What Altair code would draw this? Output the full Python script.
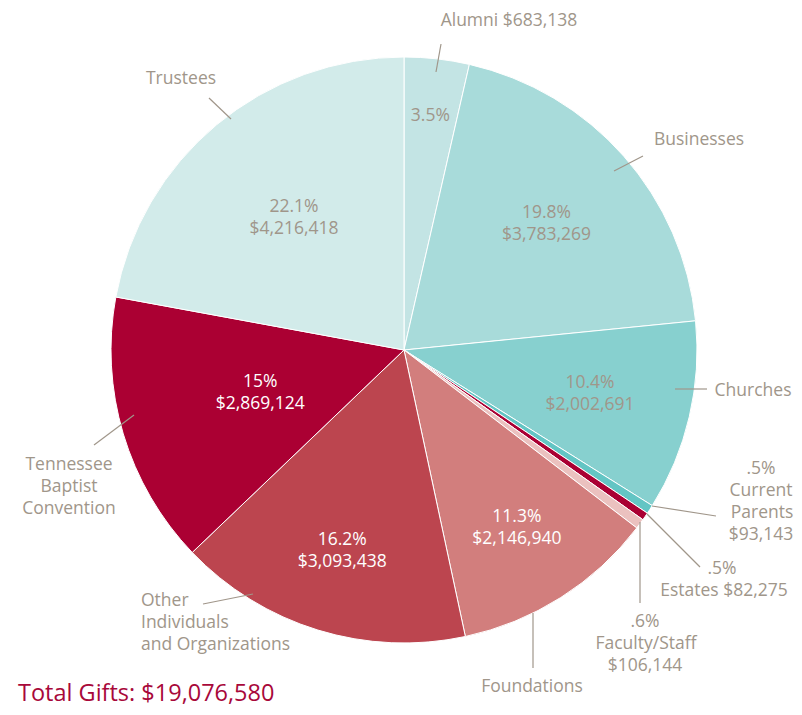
import altair as alt
import pandas as pd
import numpy as np

# ---- data ----
categories = ["Alumni", "Businesses", "Churches", "Current Parents", "Estates",
              "Faculty/Staff", "Foundations", "Other Individuals and Organizations",
              "Tennessee Baptist Convention", "Trustees"]
amounts = [683138, 3783269, 2002691, 93143, 82275, 106144, 2146940, 3093438, 2869124, 4216418]
percent_labels = ["3.5%", "19.8%", "10.4%", ".5%", ".5%", ".6%", "11.3%", "16.2%", "15%", "22.1%"]
amount_labels = ["$683,138", "$3,783,269", "$2,002,691", "$93,143", "$82,275", "$106,144",
                 "$2,146,940", "$3,093,438", "$2,869,124", "$4,216,418"]
total_label = "Total Gifts: $19,076,580"

# ---- style ----
slice_colors = ["#c3e4e4", "#a8dbda", "#87d0cf", "#63c5c4", "#aa0033",
                "#ebc1bf", "#d27e7d", "#bc454f", "#ab0033", "#d2ebea"]
gray = "#a0968a"
FONT = "Open Sans"
FS = 17.5
LH = 22
M = 8  # page margin
CX, CY, R = 404 - M, 350 - M, 293

# inside labels: radius from centre (None = no inside label), text colour
inside_radius = [235, 190, 191, None, None, None, 211, 210, 150, 172]
inside_color = [gray, gray, gray, gray, gray, gray, "white", "white", "white", gray]

# outside label lines (page coords: text, x centre / left, y centre, align)
outside_lines = [
    ("Alumni $683,138", 509, 21, "center"),
    ("Businesses", 699, 140, "center"),
    ("Churches", 753, 391, "center"),
    (".5%", 761, 469, "center"),
    ("Current", 761, 491, "center"),
    ("Parents", 762, 513, "center"),
    ("$93,143", 761, 535, "center"),
    (".5%", 722, 569, "center"),
    ("Estates $82,275", 724, 591, "center"),
    (".6%", 645, 622, "center"),
    ("Faculty/Staff", 646, 644, "center"),
    ("$106,144", 645, 666, "center"),
    ("Foundations", 532, 687, "center"),
    ("Other", 141, 601, "left"),
    ("Individuals", 141, 623, "left"),
    ("and Organizations", 141, 645, "left"),
    ("Tennessee", 69, 465, "center"),
    ("Baptist", 69, 487, "center"),
    ("Convention", 69, 509, "center"),
    ("Trustees", 181, 79, "center"),
]

# leader lines (page coords x1, y1, x2, y2)
leaders = [
    (436, 72, 441, 44),
    (614, 171, 643, 156),
    (675, 389, 707, 389),
    (652, 506, 716, 516),
    (647, 514, 700, 567),
    (640, 522, 640, 603),
    (533, 613, 533, 668),
    (253, 594, 203, 604),
    (134, 415, 94, 445),
    (231, 119, 209, 98),
]

# ---- tables ----
df = pd.DataFrame({"category": categories, "amount": amounts, "idx": range(len(categories))})

amt = np.array(amounts, dtype=float)
total = amt.sum()
mid = (np.cumsum(amt) - amt / 2) / total * 2 * np.pi
rows = []
for i, r in enumerate(inside_radius):
    if r is None:
        continue
    if categories[i] == "Alumni":
        txt, shift = percent_labels[i], 0
    else:
        txt, shift = percent_labels[i] + "\n" + amount_labels[i], LH / 2
    rows.append({"label": txt, "lx": CX + r * np.sin(mid[i]), "ly": CY - r * np.cos(mid[i]) - shift,
                 "tcolor": inside_color[i]})
df_in = pd.DataFrame(rows)

df_out = pd.DataFrame([{"t": t, "x": x - M, "y": y - M, "al": a} for t, x, y, a in outside_lines])
df_lead = pd.DataFrame([{"x1": a - M, "y1": b - M, "x2": c - M, "y2": d - M} for a, b, c, d in leaders])
df_total = pd.DataFrame([{"t": total_label, "x": 18 - M, "y": 694 - M}])

pie = alt.Chart(df).mark_arc(outerRadius=R, stroke="white", strokeWidth=1, x=CX, y=CY).encode(
    theta=alt.Theta("amount:Q", stack=True),
    order=alt.Order("idx:Q"),
    color=alt.Color("category:N", scale=alt.Scale(domain=categories, range=slice_colors), legend=None),
)

inside = alt.Chart(df_in).mark_text(font=FONT, fontSize=FS, lineBreak="\n", lineHeight=LH,
                                    baseline="middle", align="center").encode(
    x=alt.X("lx:Q", scale=None, axis=None),
    y=alt.Y("ly:Q", scale=None, axis=None),
    text="label:N",
    color=alt.Color("tcolor:N", scale=None),
)

lead = alt.Chart(df_lead).mark_rule(color=gray, strokeWidth=1.2).encode(
    x=alt.X("x1:Q", scale=None, axis=None),
    y=alt.Y("y1:Q", scale=None, axis=None),
    x2="x2:Q",
    y2="y2:Q",
)

out_c = alt.Chart(df_out[df_out.al == "center"]).mark_text(
    font=FONT, fontSize=FS, color=gray, baseline="middle", align="center").encode(
    x=alt.X("x:Q", scale=None, axis=None), y=alt.Y("y:Q", scale=None, axis=None), text="t:N")
out_l = alt.Chart(df_out[df_out.al == "left"]).mark_text(
    font=FONT, fontSize=FS, color=gray, baseline="middle", align="left").encode(
    x=alt.X("x:Q", scale=None, axis=None), y=alt.Y("y:Q", scale=None, axis=None), text="t:N")

tot = alt.Chart(df_total).mark_text(font=FONT, fontSize=23.5, color="#a8083a",
                                    baseline="middle", align="left").encode(
    x=alt.X("x:Q", scale=None, axis=None), y=alt.Y("y:Q", scale=None, axis=None), text="t:N")

chart = alt.layer(pie, lead, inside, out_c, out_l, tot).properties(
    width=786, height=699, autosize=alt.AutoSizeParams(type="none"), padding=0,
).configure_view(stroke=None)

chart.save("out.html", embed_options={"renderer": "svg", "actions": False})
